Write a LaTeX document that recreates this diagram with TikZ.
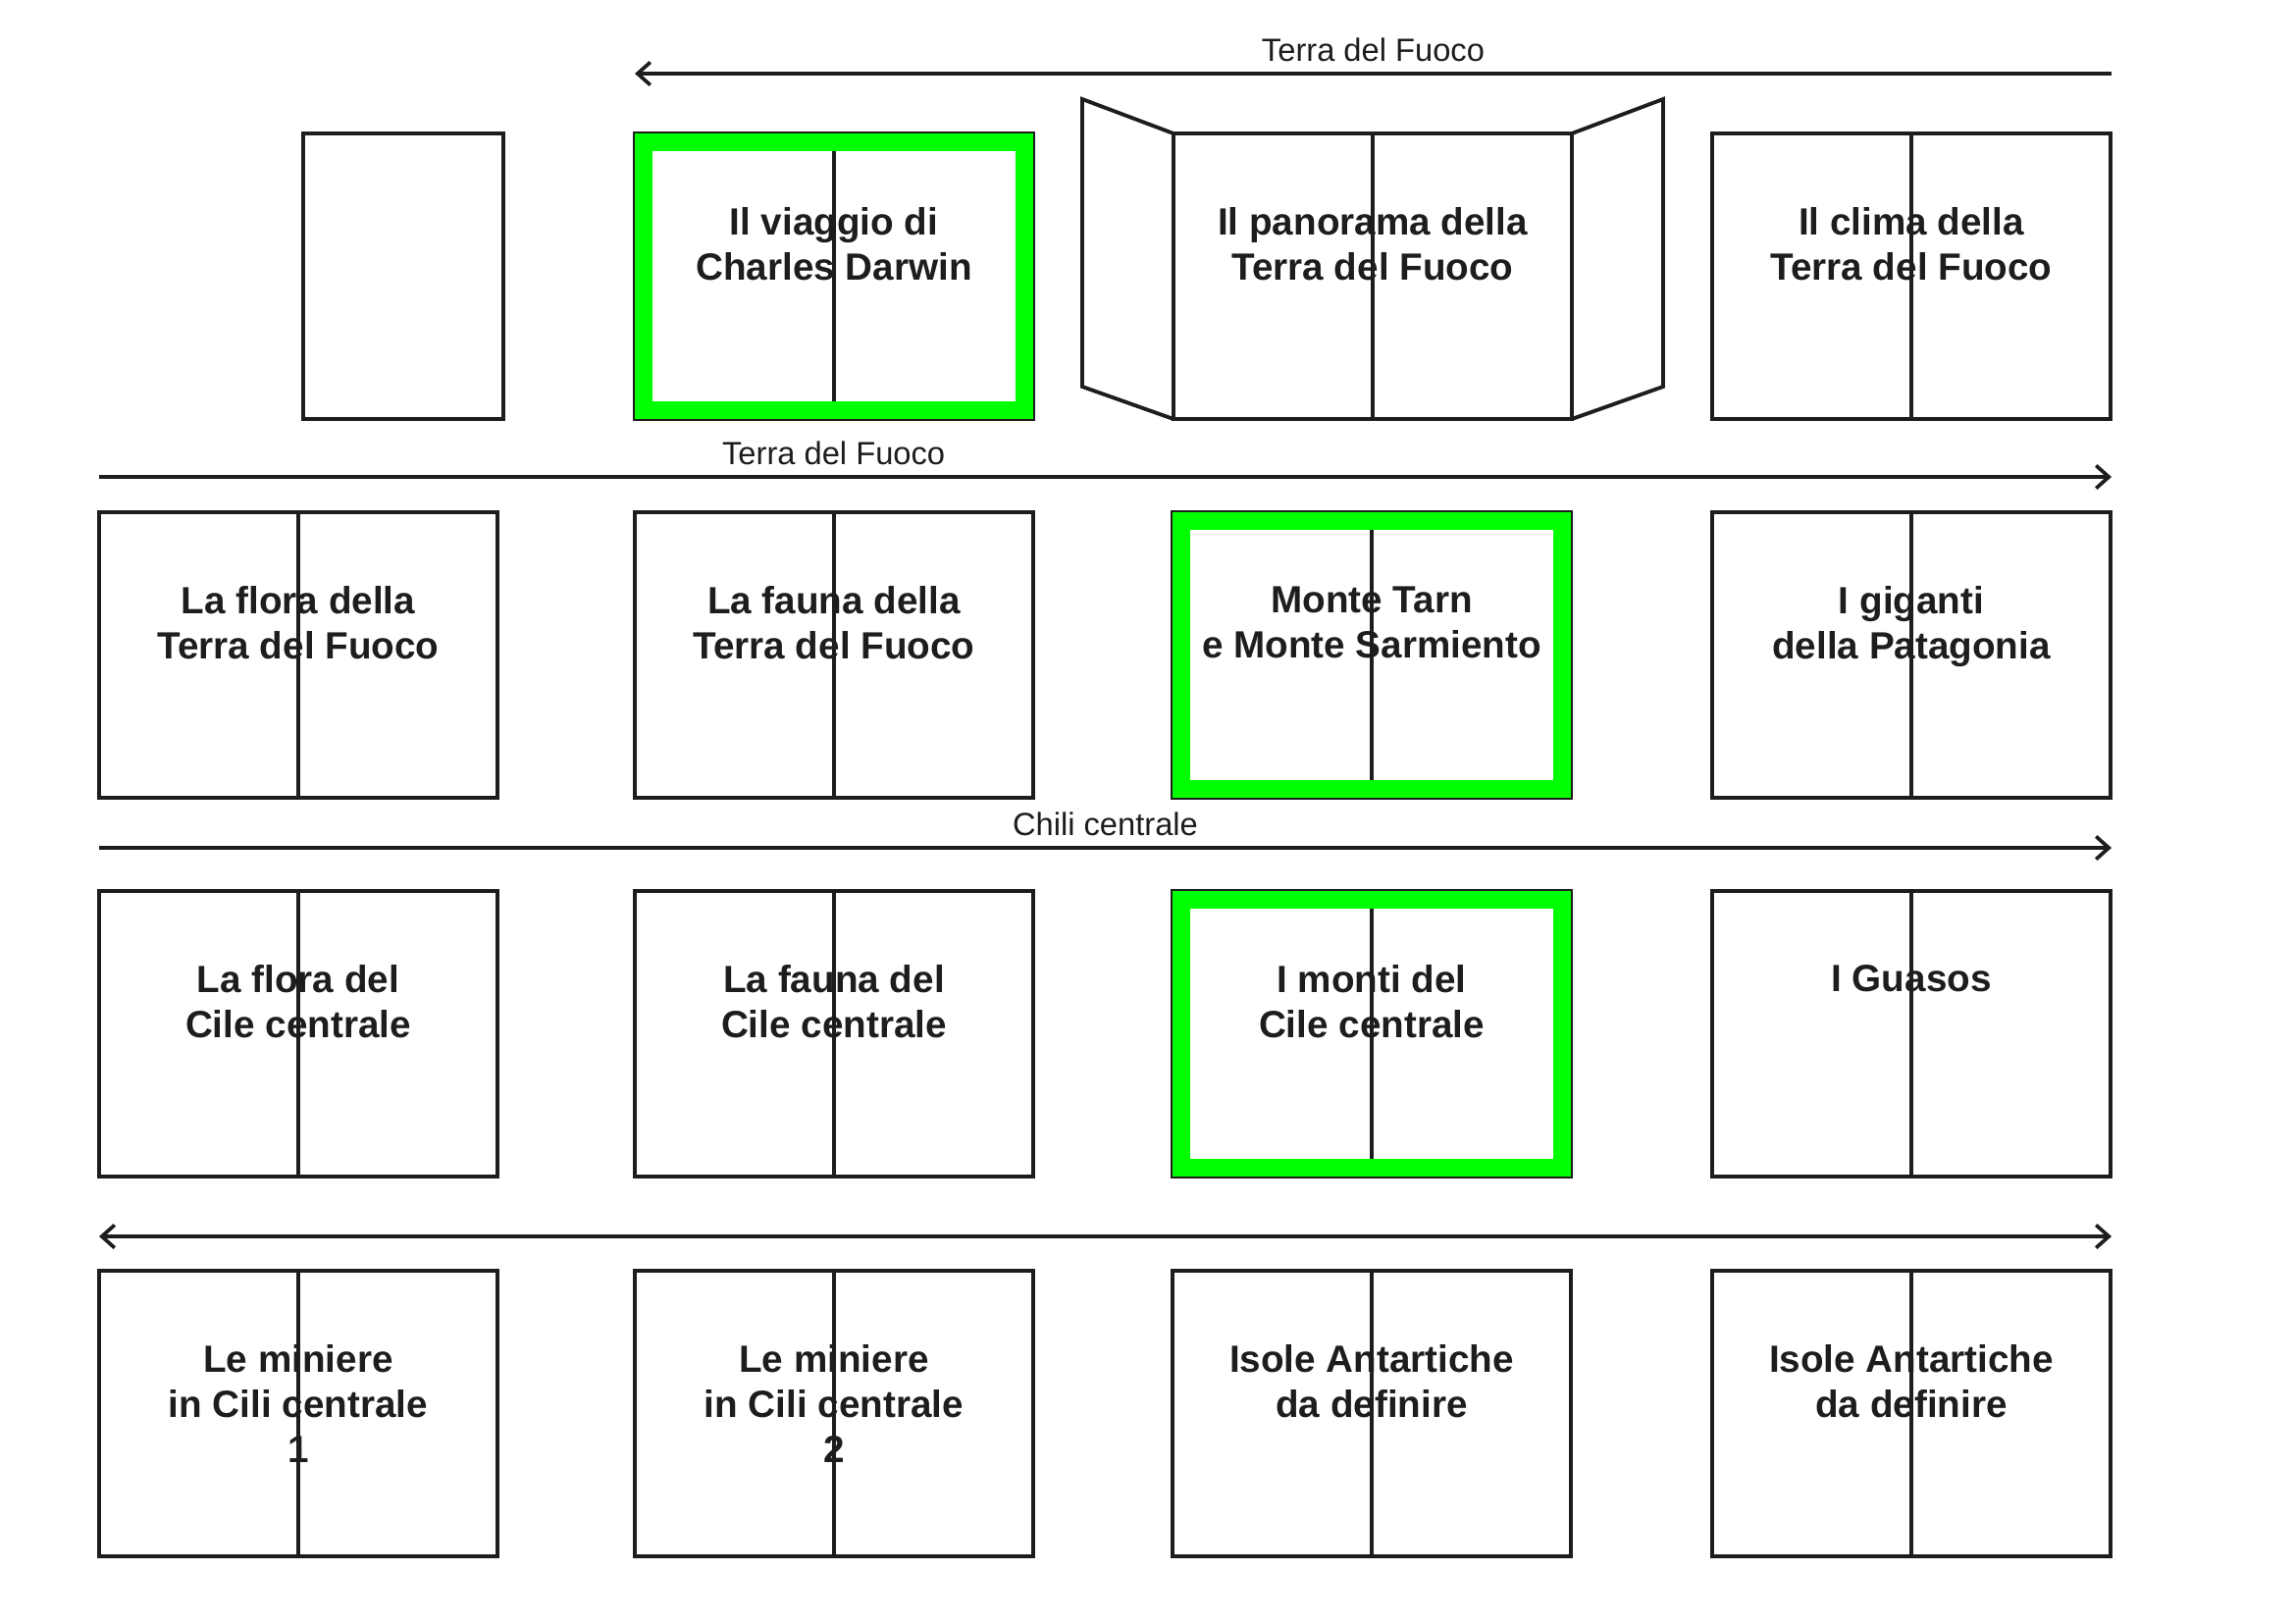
\documentclass[tikz,border=0pt]{standalone}
\usepackage{fontspec}
\setmainfont{Liberation Sans}
\usetikzlibrary{arrows.meta}
\usetikzlibrary{positioning}

\definecolor{ink}{HTML}{1D1D1B}
\definecolor{leaf}{HTML}{00FF00}

\tikzset{
  page/.style={draw=ink, line width=1.1pt, inner sep=0pt, outer sep=0pt,
    minimum width=40.6mm, minimum height=29.1mm},
  spine/.style={draw=ink, line width=1.05pt},
  flap/.style={draw=ink, line width=1.1pt, line join=miter},
  frame/.style={draw=leaf, line width=5pt},
  title/.style={font=\bfseries\fontsize{11}{13.1}\selectfont, text=ink,
    align=center, inner sep=0pt},
  tag/.style={font=\fontsize{9.3}{11}\selectfont, text=ink, inner sep=0pt,
    anchor=base, yshift=1.3mm},
  flow/.style={draw=ink, line width=1.05pt}
}

\begin{document}
\begin{tikzpicture}[x=0.1mm, y=-0.1mm, >={Straight Barb[length=3.7pt,width=6.6pt]}]
    \useasboundingbox (0,0) rectangle (2339,1654);

      \begin{scope}[every node/.style={page}]
        % row 1
        \node (p11) at (411,281.5) [minimum width=20.4mm] {};
        \node (p12) at (850,281.5) {};
        \node (p13) at (1399,281.5) {};
        \node (p14) at (1948,281.5) {};
        % row 2
        \node (p21) at (304,667.5) {};
        \node (p22) at (850,667.5) {};
        \node (p23) at (1398,667.5) {};
        \node (p24) at (1948,667.5) {};
        % row 3
        \node (p31) at (304,1053.5) {};
        \node (p32) at (850,1053.5) {};
        \node (p33) at (1398,1053.5) {};
        \node (p34) at (1948,1053.5) {};
        % row 4
        \node (p41) at (304,1440.5) {};
        \node (p42) at (850,1440.5) {};
        \node (p43) at (1398,1440.5) {};
        \node (p44) at (1948,1440.5) {};
      \end{scope}

      % folds
      \draw[spine] (p12.north) -- (p12.south);
      \draw[spine] (p13.north) -- (p13.south);
      \draw[spine] (p14.north) -- (p14.south);
      \draw[spine] (p21.north) -- (p21.south);
      \draw[spine] (p22.north) -- (p22.south);
      \draw[spine] (p23.north) -- (p23.south);
      \draw[spine] (p24.north) -- (p24.south);
      \draw[spine] (p31.north) -- (p31.south);
      \draw[spine] (p32.north) -- (p32.south);
      \draw[spine] (p33.north) -- (p33.south);
      \draw[spine] (p34.north) -- (p34.south);
      \draw[spine] (p41.north) -- (p41.south);
      \draw[spine] (p42.north) -- (p42.south);
      \draw[spine] (p43.north) -- (p43.south);
      \draw[spine] (p44.north) -- (p44.south);

      % panorama side flaps
      \draw[flap] (p13.north west) -- ++(-93,-35) -- ++(0,293) -- (p13.south west);
      \draw[flap] (p13.north east) -- ++(93,-35) -- ++(0,293) -- (p13.south east);

      % highlighted pages
      \draw[frame] ([shift={(0.88mm,-0.88mm)}]p12.north west) rectangle ([shift={(-0.88mm,0.88mm)}]p12.south east);
      \draw[frame] ([shift={(0.88mm,-0.88mm)}]p23.north west) rectangle ([shift={(-0.88mm,0.88mm)}]p23.south east);
      \draw[frame] ([shift={(0.88mm,-0.88mm)}]p33.north west) rectangle ([shift={(-0.88mm,0.88mm)}]p33.south east);

      \begin{scope}[every node/.style={title}]
        \node (t12) [below=7.5mm of p12.north] {Il viaggio di\\Charles Darwin};
        \node (t13) [below=7.5mm of p13.north] {Il panorama della\\Terra del Fuoco};
        \node (t14) [below=7.5mm of p14.north] {Il clima della\\Terra del Fuoco};
        \node (t21) [below=7.5mm of p21.north] {La flora della\\Terra del Fuoco};
        \node (t22) [below=7.5mm of p22.north] {La fauna della\\Terra del Fuoco};
        \node (t23) [below=7.5mm of p23.north] {Monte Tarn\\e Monte Sarmiento};
        \node (t24) [below=7.5mm of p24.north] {I giganti\\della Patagonia};
        \node (t31) [below=7.5mm of p31.north] {La flora del\\Cile centrale};
        \node (t32) [below=7.5mm of p32.north] {La fauna del\\Cile centrale};
        \node (t33) [below=7.5mm of p33.north] {I monti del\\Cile centrale};
        \node (t34) [below=7.5mm of p34.north] {I Guasos};
        \node (t41) [below=7.5mm of p41.north] {Le miniere\\in Cili centrale\\1};
        \node (t42) [below=7.5mm of p42.north] {Le miniere\\in Cili centrale\\2};
        \node (t43) [below=7.5mm of p43.north] {Isole Antartiche\\da definire};
        \node (t44) [below=7.5mm of p44.north] {Isole Antartiche\\da definire};
      \end{scope}

      % reading directions
      \coordinate (a0) at (647,75);
      \coordinate (a1) at (2152,75);
      \coordinate (b0) at (101,486);
      \coordinate (b1) at (2152,486);
      \coordinate (c0) at (101,864);
      \coordinate (c1) at (2152,864);
      \coordinate (d0) at (101,1260);
      \coordinate (d1) at (2152,1260);

      \draw[flow,->] (a1) -- node[tag] (l1) {Terra del Fuoco} (a0);
      \draw[flow,->] (b0) -- node[tag, pos=0.365] (l2) {Terra del Fuoco} (b1);
      \draw[flow,->] (c0) -- node[tag] (l3) {Chili centrale} (c1);
      \draw[flow,<->] (d0) -- (d1);

    \end{tikzpicture}
\end{document}
